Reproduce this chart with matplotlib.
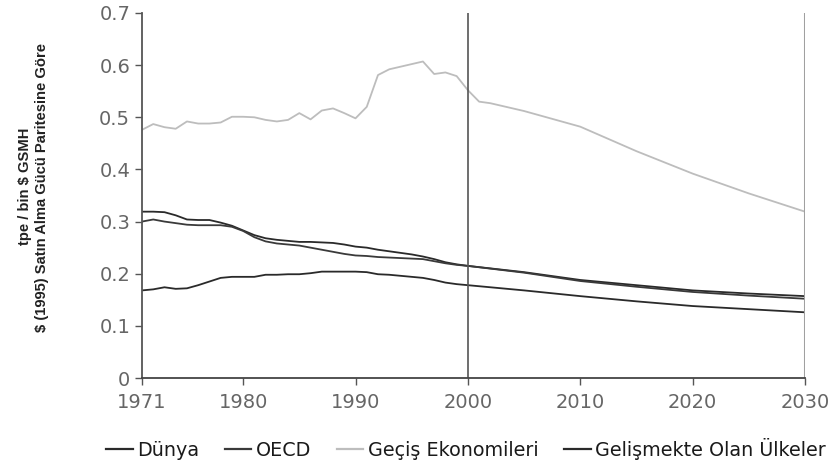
import matplotlib
matplotlib.use("Agg")
import matplotlib.pyplot as plt
import numpy as np

years_hist = list(range(1971, 2001))
years_proj = [2005, 2010, 2015, 2020, 2025, 2030]

dunya_hist = [0.319, 0.319, 0.318, 0.312, 0.304, 0.303, 0.303, 0.298, 0.292, 0.283,
              0.274, 0.268, 0.265, 0.263, 0.261, 0.261, 0.260, 0.259, 0.256, 0.252,
              0.250, 0.246, 0.243, 0.240, 0.237, 0.233, 0.228, 0.222, 0.218, 0.215]
dunya_proj = [0.203, 0.188, 0.178, 0.168, 0.162, 0.157]

oecd_hist = [0.300, 0.304, 0.300, 0.297, 0.294, 0.293, 0.293, 0.293, 0.290, 0.282,
             0.270, 0.262, 0.258, 0.256, 0.254, 0.250, 0.246, 0.242, 0.238, 0.235,
             0.234, 0.232, 0.231, 0.230, 0.229, 0.228, 0.224, 0.220, 0.217, 0.215]
oecd_proj = [0.202, 0.186, 0.175, 0.165, 0.158, 0.152]

gecis_hist = [0.476, 0.487, 0.481, 0.478, 0.492, 0.488, 0.488, 0.490, 0.501, 0.501,
              0.500, 0.495, 0.492, 0.495, 0.508, 0.496, 0.513, 0.517, 0.508, 0.498,
              0.520, 0.581, 0.592, 0.597, 0.602, 0.607, 0.583, 0.586, 0.579, 0.552]
gecis_proj_years = [2001, 2002, 2005, 2010, 2015, 2020, 2025, 2030]
gecis_proj = [0.530, 0.527, 0.512, 0.482, 0.435, 0.392, 0.354, 0.319]

gelis_hist = [0.168, 0.170, 0.174, 0.171, 0.172, 0.178, 0.185, 0.192, 0.194, 0.194,
              0.194, 0.198, 0.198, 0.199, 0.199, 0.201, 0.204, 0.204, 0.204, 0.204,
              0.203, 0.199, 0.198, 0.196, 0.194, 0.192, 0.188, 0.183, 0.180, 0.178]
gelis_proj = [0.168, 0.157, 0.147, 0.138, 0.132, 0.126]

labels = ["Dünya", "OECD", "Geçiş Ekonomileri", "Gelişmekte Olan Ülkeler"]
xticks = [1971, 1980, 1990, 2000, 2010, 2020, 2030]
yticks = [0, 0.1, 0.2, 0.3, 0.4, 0.5, 0.6, 0.7]
ytick_labels = ["0", "0.1", "0.2", "0.3", "0.4", "0.5", "0.6", "0.7"]

fig = plt.figure(figsize=(8.34, 4.72), dpi=100)
ax = fig.add_axes([142/834, 1-378/472, (805-142)/834, (378-13)/472])

dark = "#2a2a2a"
light = "#bdbdbd"
ax.plot(years_hist + years_proj, dunya_hist + dunya_proj, color=dark, lw=1.3, label=labels[0])
ax.plot(years_hist + years_proj, oecd_hist + oecd_proj, color="#3a3a3a", lw=1.3, label=labels[1])
ax.plot(years_hist + gecis_proj_years, gecis_hist + gecis_proj, color=light, lw=1.3, label=labels[2])
ax.plot(years_hist + years_proj, gelis_hist + gelis_proj, color=dark, lw=1.3, label=labels[3])

ax.axvline(2000, color="#555555", lw=1.2)
ax.axvline(2030, color="#a0a0a0", lw=2.2)

ax.set_xlim(1971, 2030)
ax.set_ylim(0, 0.7)
ax.set_xticks(xticks)
ax.set_xticklabels([str(x) for x in xticks])
ax.set_yticks(yticks)
ax.set_yticklabels(ytick_labels)
for s in ["top", "right"]:
    ax.spines[s].set_visible(False)
ax.spines["left"].set_color("#555555")
ax.spines["bottom"].set_color("#444444")
ax.spines["left"].set_linewidth(1.3)
ax.spines["bottom"].set_linewidth(1.3)
ax.tick_params(axis="both", colors="#555555", labelcolor="#666666", labelsize=14, length=5, width=1)
ax.tick_params(axis="x", pad=6)

fig.text(25/834, 1-186/472, "tpe / bin $ GSMH", rotation=90, ha="center", va="center",
         fontsize=10.6, fontweight="bold", family="Liberation Sans", color="#222222")
fig.text(42/834, 1-188/472, "$ (1995) Satın Alma Gücü Paritesine Göre", rotation=90,
         ha="center", va="center", fontsize=10.6, fontweight="bold", family="Liberation Sans",
         color="#222222")

leg = fig.legend(loc="center", bbox_to_anchor=(466/834, 1-449/472), ncol=4, frameon=False,
                 handlelength=1.4, handletextpad=0.25, columnspacing=1.3,
                 prop={"family": "DejaVu Sans", "size": 13.8})
for t in leg.get_texts():
    t.set_color("#1a1a1a")
for h in leg.get_lines():
    h.set_linewidth(1.6)

fig.savefig("out.png", dpi=100)
